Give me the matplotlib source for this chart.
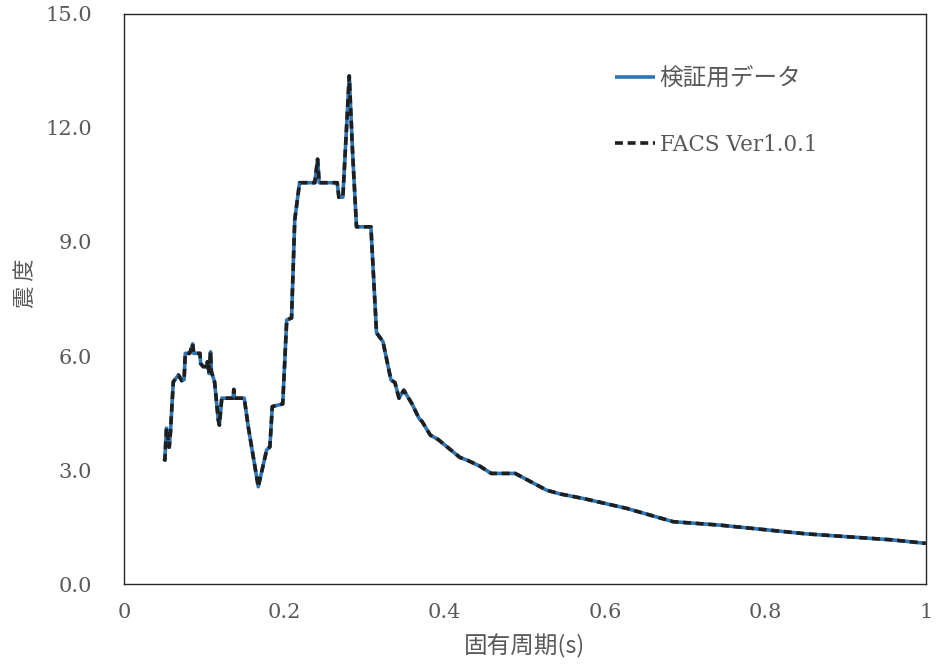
import numpy as np
import matplotlib.pyplot as plt

# Colours
C_BLUE = "#2E75B6"
C_DASH = "#1F1F1F"
C_TEXT = "#595959"

# Data (period s, seismic intensity)
period = [0.050, 0.051, 0.053, 0.0565, 0.058, 0.0615, 0.068, 0.072, 0.075, 0.0765,
          0.082, 0.0857, 0.087, 0.0948, 0.0956, 0.0989, 0.103, 0.104, 0.106, 0.108,
          0.109, 0.113, 0.1176, 0.119, 0.122, 0.136, 0.137, 0.138, 0.150, 0.155,
          0.1675, 0.178, 0.182, 0.185, 0.198, 0.203, 0.209, 0.213, 0.219, 0.238,
          0.2415, 0.2435, 0.266, 0.268, 0.273, 0.281, 0.285, 0.290, 0.308, 0.315,
          0.323, 0.333, 0.338, 0.343, 0.349, 0.359, 0.368, 0.372, 0.382, 0.392,
          0.419, 0.428, 0.444, 0.458, 0.488, 0.527, 0.544, 0.573, 0.627, 0.685,
          0.743, 0.851, 0.959, 1.000]
intensity = [3.30, 3.26, 4.10, 3.60, 4.00, 5.32, 5.50, 5.35, 5.38, 6.07,
             6.07, 6.32, 6.07, 6.07, 5.80, 5.72, 5.72, 5.85, 5.54, 6.11,
             5.59, 5.32, 4.32, 4.18, 4.89, 4.89, 5.12, 4.89, 4.89, 4.14,
             2.56, 3.53, 3.61, 4.67, 4.74, 6.95, 7.00, 9.58, 10.56, 10.56,
             11.18, 10.56, 10.56, 10.18, 10.18, 13.37, 11.42, 9.40, 9.40, 6.61,
             6.38, 5.37, 5.30, 4.89, 5.10, 4.75, 4.36, 4.27, 3.92, 3.80,
             3.33, 3.26, 3.10, 2.91, 2.91, 2.47, 2.37, 2.25, 1.99, 1.64,
             1.55, 1.32, 1.16, 1.07]

xticks = [0, 0.2, 0.4, 0.6, 0.8, 1.0]
xtick_labels = ["0", "0.2", "0.4", "0.6", "0.8", "1"]
yticks = [0, 3, 6, 9, 12, 15]
ytick_labels = ["0.0", "3.0", "6.0", "9.0", "12.0", "15.0"]

plt.rcParams['font.family'] = ['Noto Sans CJK JP', 'DejaVu Sans']

fig = plt.figure(figsize=(9.37, 6.66), dpi=100)
ax = fig.add_axes([0.1323, 0.1231, 0.8557, 0.8559])

ax.plot(period, intensity, color=C_BLUE, lw=2.6, label="検証用データ",
        solid_capstyle='butt')
ax.plot(period, intensity, color=C_DASH, lw=2.6, ls=(0, (2.2, 1.3)),
        label="FACS Ver1.0.1")

ax.set_xlim(0, 1)
ax.set_ylim(0, 15)
ax.set_xticks(xticks)
ax.set_yticks(yticks)
ax.set_xticklabels(xtick_labels, family='DejaVu Serif', fontsize=15, color=C_TEXT)
ax.set_yticklabels(ytick_labels, family='DejaVu Serif', fontsize=15, color=C_TEXT)
ax.tick_params(axis='both', length=0)
ax.tick_params(axis='y', pad=23)
ax.tick_params(axis='x', pad=14)

for sp in ax.spines.values():
    sp.set_color("#262626")
    sp.set_linewidth(1.0)

ax.set_xlabel("固有周期(s)", fontsize=17, color=C_TEXT)
ax.xaxis.set_label_coords(0.5, -0.0877)
ax.set_ylabel("震 度", fontsize=16, color=C_TEXT)
ax.yaxis.set_label_coords(-0.1085, 0.528)

leg = ax.legend(loc='upper left', bbox_to_anchor=(0.612, 0.906), frameon=False,
                fontsize=17, handlelength=1.7, handletextpad=0.2,
                labelspacing=1.85, borderpad=0, borderaxespad=0)
for t in leg.get_texts():
    t.set_color(C_TEXT)
leg.get_texts()[1].set_family(['DejaVu Serif'])
leg.get_texts()[1].set_fontsize(15.5)

plt.savefig("out.png", dpi=100)
plt.close()
